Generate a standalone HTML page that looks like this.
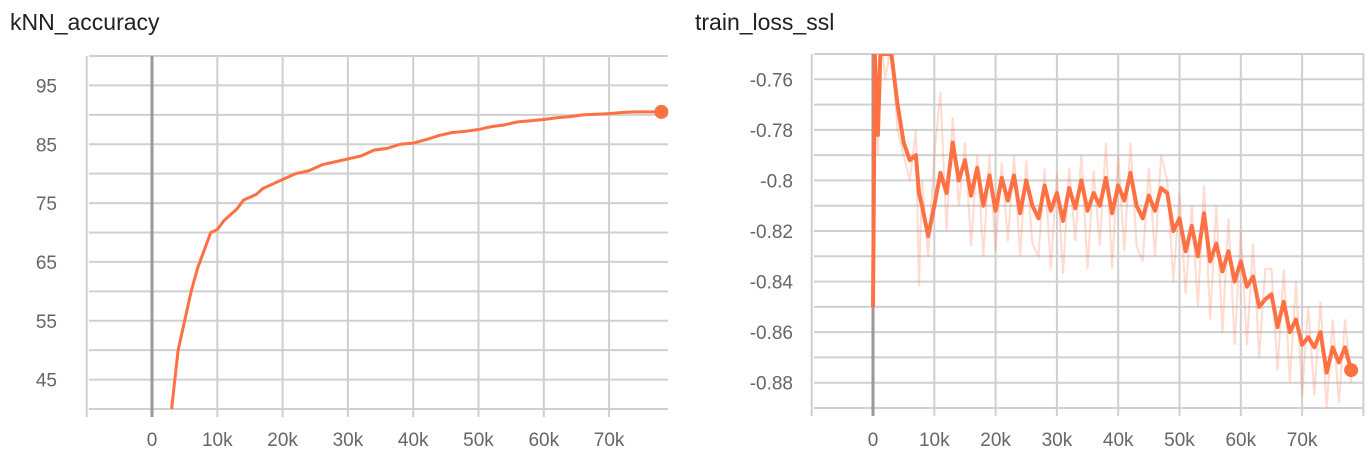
<!DOCTYPE html>
<html><head><meta charset="utf-8"><style>
body{margin:0;background:#fff;width:1370px;height:462px;overflow:hidden;font-family:"Liberation Sans",sans-serif}
svg{position:absolute;left:0;top:0}
</style></head><body>
<svg id="c" width="1370" height="462"></svg>
<script>
const accSteps=[3,3.5,4,5,6,7,8,9,10,11,12,13,14,15,16,17,18,20,22,24,26,28,30,32,34,36,38,40,42,44,46,48,50,52,54,56,58,60,62,64,66,68,70,72,74,76,78];
const accVals=[40,45,50,55,60,64,67,70,70.5,72,73,74,75.5,76,76.5,77.5,78,79,80,80.5,81.5,82,82.5,83,84,84.3,85,85.2,85.8,86.5,87,87.2,87.5,88,88.3,88.8,89,89.2,89.5,89.7,90,90.1,90.2,90.4,90.5,90.5,90.5];
const accTicksY=[45,55,65,75,85,95];
const xTicks=[0,10,20,30,40,50,60,70];
const lossSteps=[0,0.3,0.8,1.2,2,3,4,5,6,7,7.5,8,9,10,11,12,13,14,15,16,17,18,19,20,21,22,23,24,25,26,27,28,29,30,31,32,33,34,35,36,37,38,39,40,41,42,43,44,45,46,47,48,49,50,51,52,53,54,55,56,57,58,59,60,61,62,63,64,65,66,67,68,69,70,71,72,73,74,75,76,77,78];
const lossVals=[-0.85,-0.75,-0.782,-0.75,-0.75,-0.75,-0.77,-0.785,-0.792,-0.79,-0.805,-0.81,-0.822,-0.81,-0.797,-0.805,-0.785,-0.8,-0.792,-0.806,-0.795,-0.81,-0.798,-0.812,-0.799,-0.808,-0.798,-0.813,-0.8,-0.81,-0.815,-0.802,-0.812,-0.805,-0.816,-0.803,-0.811,-0.8,-0.812,-0.805,-0.81,-0.799,-0.813,-0.802,-0.808,-0.797,-0.81,-0.815,-0.806,-0.812,-0.803,-0.805,-0.82,-0.815,-0.828,-0.818,-0.83,-0.813,-0.832,-0.825,-0.836,-0.828,-0.84,-0.832,-0.842,-0.838,-0.85,-0.847,-0.845,-0.858,-0.848,-0.86,-0.855,-0.865,-0.862,-0.866,-0.86,-0.876,-0.866,-0.872,-0.866,-0.875];
const lossRaw=[-0.853,-0.74,-0.79,-0.74,-0.76,-0.745,-0.78,-0.79,-0.8,-0.78,-0.842,-0.8,-0.83,-0.79,-0.765,-0.82,-0.775,-0.81,-0.785,-0.826,-0.79,-0.83,-0.79,-0.828,-0.793,-0.824,-0.79,-0.83,-0.792,-0.825,-0.83,-0.795,-0.835,-0.797,-0.837,-0.795,-0.824,-0.79,-0.835,-0.796,-0.826,-0.785,-0.835,-0.79,-0.828,-0.785,-0.826,-0.832,-0.795,-0.83,-0.79,-0.8,-0.84,-0.805,-0.845,-0.81,-0.85,-0.802,-0.855,-0.81,-0.86,-0.815,-0.865,-0.82,-0.865,-0.825,-0.87,-0.835,-0.835,-0.875,-0.835,-0.88,-0.84,-0.885,-0.85,-0.885,-0.848,-0.89,-0.855,-0.888,-0.855,-0.88];
const lossTicksY=[-0.76,-0.78,-0.8,-0.82,-0.84,-0.86,-0.88];
const NS="http://www.w3.org/2000/svg";
const svg=document.getElementById('c');
function mk(t,a,p){const e=document.createElementNS(NS,t);for(const k in a)e.setAttribute(k,a[k]);(p||svg).appendChild(e);return e;}
function chart(o){
  const g=mk('g',{});
  
  
  const sx=v=>o.x0+v*o.kx, sy=v=>o.yT+(o.ymax-v)/(o.ymax-o.ymin)*(o.yB-o.yT);
  const t=mk('text',{x:o.tx,y:30,'font-size':23,fill:'#212121'},g);t.textContent=o.title;
  
  
  for(let v=o.ymin;v<=o.ymax+1e-9;v+=o.gstep){const y=sy(v);mk('line',{x1:o.xL,x2:o.xR,y1:y,y2:y,stroke:'#d0d0d0','stroke-width':2},g);}
  for(let k=-10;k<=80;k+=10){const x=sx(k);if(x>o.xR+2)continue;mk('line',{x1:x,x2:x,y1:o.yT,y2:o.yB+8,stroke:k==0?'#9a9a9a':'#cfcfcf','stroke-width':k==0?3:2},g);}
  o.yt.forEach(v=>{const tt=mk('text',{x:o.lx,y:sy(v)+7,'font-size':19,fill:'#666','text-anchor':'end'},g);tt.textContent=o.fmt(v);
    
    });
  xTicks.forEach(v=>{const tt=mk('text',{x:sx(v),y:446,'font-size':19,fill:'#666','text-anchor':'middle'},g);tt.textContent=v?v+'k':'0';
    
    });
  const cid='clip'+o.name;const cp=mk('clipPath',{id:cid},g);mk('rect',{x:o.xL,y:o.yT,width:o.xR-o.xL,height:o.yB-o.yT},cp);
  const pg=mk('g',{'clip-path':'url(#'+cid+')'},g);
  if(o.raw){const r=mk('polyline',{points:o.steps.map((s,i)=>sx(s)+','+sy(o.raw[i])).join(' '),fill:'none',stroke:'rgba(255,112,67,0.25)','stroke-width':2},pg);
    
    }
  const l=mk('polyline',{points:o.steps.map((s,i)=>sx(s)+','+sy(o.vals[i])).join(' '),fill:'none',stroke:'#ff7043','stroke-width':o.sw,'stroke-linejoin':'round'},pg);
  
  
  const n=o.steps.length-1;
  const d=mk('circle',{cx:sx(o.steps[n]),cy:sy(o.vals[n]),r:7,fill:'#ff7043'},g);
  
  
}
chart({name:'knn-accuracy-chart',title:'kNN_accuracy',tx:10,x0:152,kx:6.53,xL:89,xR:668,yT:56,yB:409,ymin:40,ymax:100,gstep:5,lx:57,yt:accTicksY,fmt:v=>''+v,steps:accSteps,vals:accVals,raw:null,sw:3});
chart({name:'train-loss-chart',title:'train_loss_ssl',tx:695,x0:873,kx:6.13,xL:814,xR:1364,yT:54,yB:408,ymin:-0.89,ymax:-0.75,gstep:0.01,lx:793,yt:lossTicksY,fmt:v=>(''+v),steps:lossSteps,vals:lossVals,raw:lossRaw,sw:4});
</script>
</body></html>
